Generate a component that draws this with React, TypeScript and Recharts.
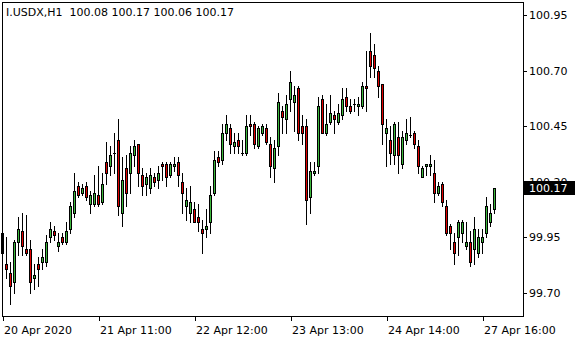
import { ComposedChart, Bar, XAxis, YAxis } from "recharts";

// hourly OHLC (bar 0 = 20 Apr 2020 00:00)
const opens = [
  99.97, 99.83, 99.79, 99.75, 99.93, 99.98, 99.9, 99.9, 99.77, 99.83,
  99.84, 99.84, 99.95, 99.98, 99.91, 99.95, 99.93, 99.99, 100.06, 100.18,
  100.15, 100.18, 100.1, 100.1, 100.14, 100.11, 100.29, 100.27, 100.33, 100.39,
  100.06, 100.26, 100.24, 100.32, 100.37, 100.23, 100.19, 100.17, 100.22, 100.21,
  100.28, 100.28, 100.23, 100.27, 100.29, 100.2, 100.09, 100.06, 100.08, 100.04,
  99.99, 99.99, 100.02, 100.15, 100.31, 100.3, 100.42, 100.44, 100.36, 100.39,
  100.33, 100.33, 100.46, 100.46, 100.36, 100.42, 100.44, 100.37, 100.26, 100.36,
  100.52, 100.48, 100.57, 100.56, 100.62, 100.45, 100.45, 100.13, 100.24, 100.27,
  100.57, 100.42, 100.47, 100.5, 100.47, 100.5, 100.58, 100.54, 100.55, 100.54,
  100.54, 100.63, 100.79, 100.77, 100.7, 100.64, 100.42, 100.39, 100.32, 100.4,
  100.28, 100.39, 100.41, 100.42, 100.36, 100.22, 100.27, 100.27, 100.24, 100.15,
  100.19, 100.09, 100.0, 99.93, 99.95, 99.97, 99.91, 99.93, 99.9, 99.88,
  99.93, 99.97, 100.02, 100.08,
];
const highs = [
  100.0, 99.95, 99.84, 99.94, 100.04, 100.06, 100.05, 99.94, 99.83, 99.86,
  99.9, 99.96, 100.02, 100.0, 99.97, 99.97, 100.02, 100.11, 100.24, 100.2,
  100.19, 100.2, 100.16, 100.23, 100.27, 100.24, 100.38, 100.36, 100.42, 100.48,
  100.31, 100.32, 100.36, 100.39, 100.37, 100.26, 100.24, 100.26, 100.24, 100.27,
  100.29, 100.29, 100.29, 100.31, 100.31, 100.24, 100.17, 100.18, 100.11, 100.1,
  100.03, 100.08, 100.18, 100.34, 100.34, 100.46, 100.5, 100.46, 100.42, 100.42,
  100.39, 100.5, 100.5, 100.47, 100.45, 100.46, 100.46, 100.4, 100.39, 100.6,
  100.54, 100.59, 100.7, 100.63, 100.63, 100.5, 100.48, 100.29, 100.29, 100.58,
  100.59, 100.55, 100.59, 100.52, 100.55, 100.62, 100.62, 100.57, 100.57, 100.58,
  100.65, 100.79, 100.87, 100.82, 100.72, 100.64, 100.48, 100.45, 100.47, 100.47,
  100.43, 100.48, 100.49, 100.43, 100.39, 100.27, 100.28, 100.32, 100.3, 100.2,
  100.2, 100.12, 100.01, 99.97, 100.03, 100.03, 100.02, 99.98, 100.04, 99.99,
  99.99, 100.13, 100.1, 100.17,
];
const lows = [
  99.83, 99.77, 99.65, 99.7, 99.87, 99.87, 99.87, 99.7, 99.72, 99.73,
  99.81, 99.82, 99.93, 99.94, 99.89, 99.92, 99.92, 99.97, 100.04, 100.13,
  100.14, 100.12, 100.06, 100.09, 100.09, 100.1, 100.19, 100.23, 100.24, 100.05,
  100.0, 100.09, 100.15, 100.27, 100.18, 100.14, 100.14, 100.15, 100.18, 100.17,
  100.21, 100.18, 100.22, 100.25, 100.18, 100.06, 100.03, 100.02, 100.02, 99.98,
  99.88, 99.95, 99.97, 100.14, 100.27, 100.28, 100.39, 100.33, 100.33, 100.33,
  100.32, 100.32, 100.41, 100.35, 100.35, 100.41, 100.37, 100.22, 100.2, 100.32,
  100.42, 100.42, 100.52, 100.43, 100.39, 100.37, 100.01, 100.06, 100.23, 100.24,
  100.42, 100.41, 100.46, 100.42, 100.46, 100.48, 100.52, 100.51, 100.52, 100.5,
  100.53, 100.52, 100.67, 100.67, 100.58, 100.37, 100.27, 100.28, 100.28, 100.24,
  100.26, 100.37, 100.4, 100.35, 100.24, 100.22, 100.23, 100.23, 100.11, 100.14,
  100.09, 99.96, 99.9, 99.83, 99.87, 99.93, 99.9, 99.82, 99.83, 99.86,
  99.88, 99.95, 100.0, 100.06,
];
const closes = [
  99.88, 99.81, 99.73, 99.93, 99.99, 99.91, 99.88, 99.75, 99.78, 99.81,
  99.86, 99.93, 99.99, 99.96, 99.93, 99.93, 99.98, 100.09, 100.16, 100.14,
  100.17, 100.13, 100.14, 100.15, 100.1, 100.19, 100.24, 100.32, 100.33, 100.09,
  100.21, 100.15, 100.33, 100.36, 100.24, 100.18, 100.22, 100.23, 100.2, 100.24,
  100.27, 100.22, 100.28, 100.28, 100.23, 100.15, 100.12, 100.11, 100.02, 100.02,
  99.97, 100.0, 100.14, 100.3, 100.29, 100.42, 100.46, 100.37, 100.38, 100.36,
  100.33, 100.45, 100.45, 100.37, 100.44, 100.45, 100.38, 100.27, 100.35, 100.56,
  100.49, 100.55, 100.65, 100.59, 100.42, 100.42, 100.12, 100.25, 100.25, 100.54,
  100.42, 100.46, 100.51, 100.48, 100.51, 100.57, 100.54, 100.52, 100.55, 100.55,
  100.63, 100.62, 100.72, 100.71, 100.63, 100.46, 100.44, 100.33, 100.46, 100.32,
  100.4, 100.42, 100.41, 100.37, 100.27, 100.26, 100.28, 100.28, 100.15, 100.18,
  100.11, 99.97, 99.97, 99.88, 100.02, 100.02, 99.93, 99.84, 99.99, 99.95,
  99.95, 100.09, 100.06, 100.17,
];

const symbol = "I.USDX,H1";
const priceTicks = [99.7, 99.95, 100.2, 100.45, 100.7, 100.95];
const timeTickBars = [0, 24, 48, 72, 96, 120];
const timeTickLabels = [
  "20 Apr 2020",
  "21 Apr 11:00",
  "22 Apr 12:00",
  "23 Apr 13:00",
  "24 Apr 14:00",
  "27 Apr 16:00",
];

const Y_MIN = 99.597;
const Y_MAX = 101.008;
const PLOT_RIGHT = 523;
const PLOT_BOTTOM = 316;
const BULL = "#3cb83c";
const BEAR = "#e00000";
const FONT = '"DejaVu Sans", Verdana, sans-serif';

const data = opens.map((open, i) => ({
  i,
  open,
  high: highs[i],
  low: lows[i],
  close: closes[i],
  range: [lows[i], highs[i]],
}));
const last = data[data.length - 1];

function Candle(props: any) {
  const { x, y, width, height, payload } = props;
  if (!payload || height == null) return null;
  const { open, close, high, low } = payload;
  const cx = Math.floor(x + width / 2) + 0.5;
  const k = high > low ? height / (high - low) : 0;
  const yOpen = y + (high - open) * k;
  const yClose = y + (high - close) * k;
  const top = Math.round(Math.min(yOpen, yClose)) + 0.5;
  const bottom = Math.round(Math.max(yOpen, yClose)) + 0.5;
  return (
    <g>
      <line
        x1={cx}
        x2={cx}
        y1={Math.round(y)}
        y2={Math.round(y + height) + 1}
        stroke="#000"
        strokeWidth={1}
      />
      {bottom - top < 1 ? (
        <line x1={cx - 1.5} x2={cx + 1.5} y1={top} y2={top} stroke="#000" />
      ) : (
        <rect
          x={cx - 1}
          y={top}
          width={2}
          height={bottom - top}
          fill={close >= open ? BULL : BEAR}
          stroke="#000"
          strokeWidth={1}
        />
      )}
    </g>
  );
}

function PriceTick(props: any) {
  const { y, payload } = props;
  const v = payload.value;
  if (v === last.close) {
    const top = Math.floor(y) - 7;
    return (
      <g>
        <rect x={PLOT_RIGHT + 1} y={top} width={51} height={14} fill="#000" />
        <text x={PLOT_RIGHT + 6} y={y + 4} fill="#fff" fontSize={11} fontFamily={FONT}>
          {v.toFixed(2)}
        </text>
      </g>
    );
  }
  const ly = Math.round(y) + 0.5;
  return (
    <g>
      <line x1={PLOT_RIGHT} x2={PLOT_RIGHT + 4} y1={ly} y2={ly} stroke="#000" />
      <text x={PLOT_RIGHT + 6} y={y + 4} fill="#000" fontSize={11} fontFamily={FONT}>
        {v.toFixed(2)}
      </text>
    </g>
  );
}

function TimeTick(props: any) {
  const { x, payload } = props;
  const idx = timeTickBars.indexOf(payload.value);
  const lx = Math.floor(x) + 0.5;
  return (
    <g>
      <line x1={lx} x2={lx} y1={PLOT_BOTTOM} y2={PLOT_BOTTOM + 5} stroke="#000" />
      <text x={Math.floor(x) + 1} y={334} fill="#000" fontSize={11} fontFamily={FONT}>
        {timeTickLabels[idx]}
      </text>
    </g>
  );
}

export default function App() {
  const header = `${symbol}  ${[last.open, last.high, last.low, last.close]
    .map((v) => v.toFixed(2))
    .join(" ")}`;
  return (
    <div style={{ position: "relative", width: 580, height: 340, background: "#fff" }}>
      <style>{`body{margin:0}`}</style>
      <ComposedChart
        width={580}
        height={340}
        data={data}
        margin={{ top: 2, right: 0, bottom: 0, left: 1 }}
      >
        <XAxis
          dataKey="i"
          type="category"
          ticks={timeTickBars}
          interval={0}
          padding={{ left: 0, right: 26 }}
          height={24}
          axisLine={false}
          tickLine={false}
          tick={TimeTick}
        />
        <YAxis
          orientation="right"
          type="number"
          domain={[Y_MIN, Y_MAX]}
          allowDataOverflow
          ticks={[...priceTicks, last.close]}
          interval={0}
          width={57}
          axisLine={false}
          tickLine={false}
          tick={PriceTick}
        />
        <Bar dataKey="range" shape={Candle} isAnimationActive={false} />
      </ComposedChart>
      <div
        style={{
          position: "absolute",
          left: 2,
          top: 2,
          width: 522,
          height: 315,
          boxSizing: "border-box",
          border: "1px solid #000",
          pointerEvents: "none",
        }}
      />
      <div
        style={{
          position: "absolute",
          left: 6,
          top: 6,
          fontFamily: FONT,
          fontSize: 11,
          lineHeight: "14px",
          whiteSpace: "pre",
          color: "#000",
        }}
      >
        {header}
      </div>
    </div>
  );
}
